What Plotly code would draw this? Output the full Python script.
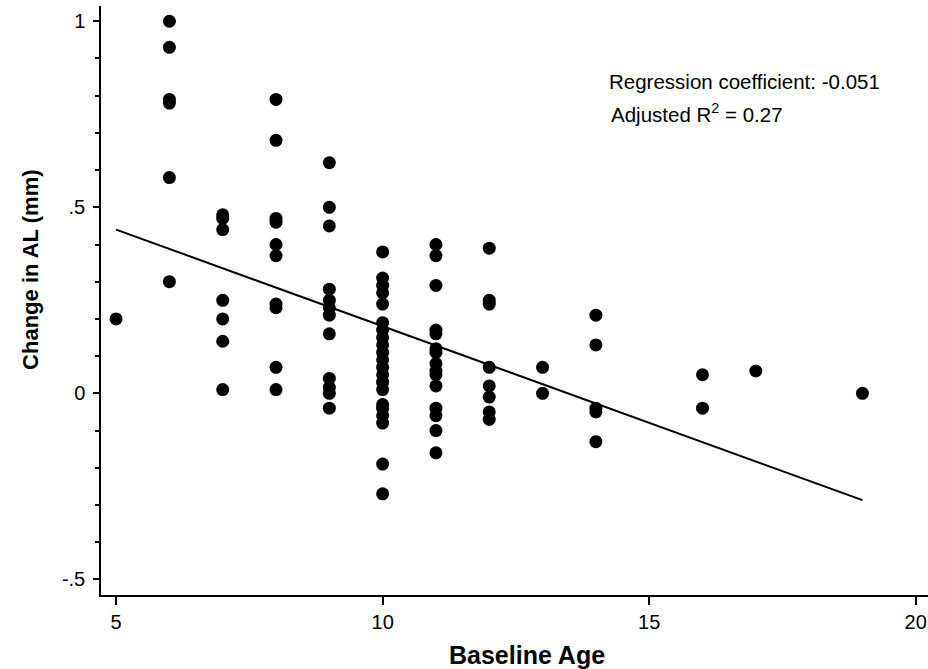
import plotly.graph_objects as go

# Baseline age groups and observed change in axial length (mm)
age_5 = [0.20]
age_6 = [1.00, 0.93, 0.79, 0.78, 0.58, 0.30]
age_7 = [0.48, 0.47, 0.44, 0.25, 0.20, 0.14, 0.01]
age_8 = [0.79, 0.68, 0.47, 0.46, 0.40, 0.37, 0.24, 0.23, 0.07, 0.01]
age_9 = [0.62, 0.50, 0.45, 0.28, 0.25, 0.23, 0.21, 0.16, 0.04, 0.016, 0.0, -0.04]
age_10 = [0.38, 0.31, 0.29, 0.27, 0.24, 0.19, 0.17, 0.15, 0.13, 0.11, 0.09,
          0.07, 0.05, 0.03, 0.01, -0.03, -0.04, -0.06, -0.08, -0.19, -0.27]
age_11 = [0.40, 0.37, 0.29, 0.17, 0.16, 0.12, 0.11, 0.08, 0.06, 0.05, 0.02,
          -0.04, -0.06, -0.10, -0.16]
age_12 = [0.39, 0.25, 0.24, 0.07, 0.02, -0.01, -0.05, -0.07]
age_13 = [0.07, 0.0]
age_14 = [0.21, 0.13, -0.04, -0.05, -0.13]
age_16 = [0.05, -0.04]
age_17 = [0.06]
age_19 = [0.0]

groups = {5: age_5, 6: age_6, 7: age_7, 8: age_8, 9: age_9, 10: age_10,
          11: age_11, 12: age_12, 13: age_13, 14: age_14, 16: age_16,
          17: age_17, 19: age_19}

# Fitted regression line end points
fit_x = [5, 19]
fit_y = [0.44, -0.287]

x_tick_vals = [5, 10, 15, 20]
y_tick_vals = [-0.5, 0, 0.5, 1]
y_tick_text = ["-.5", "0", ".5", "1"]

xs, ys = [], []
for age, vals in groups.items():
    xs += [age] * len(vals)
    ys += vals

FONT = "Arial, Liberation Sans, sans-serif"

fig = go.Figure()
fig.add_trace(go.Scatter(x=xs, y=ys, mode="markers",
                         marker=dict(size=13, color="black"),
                         showlegend=False, cliponaxis=False))
fig.add_trace(go.Scatter(x=fit_x, y=fit_y, mode="lines",
                         line=dict(color="black", width=2),
                         showlegend=False))

fig.update_layout(
    width=928, height=669,
    margin=dict(l=101, r=0, t=6, b=74),
    paper_bgcolor="white", plot_bgcolor="white",
    font=dict(family=FONT, color="black"),
    xaxis=dict(range=[4.717, 20.23], tickvals=x_tick_vals,
               showgrid=False, zeroline=False, showline=True,
               linecolor="black", linewidth=1.5,
               ticks="outside", ticklen=8, tickwidth=1.5, tickcolor="black",
               tickfont=dict(size=20, family=FONT), ticklabelstandoff=0),
    yaxis=dict(range=[-0.542, 1.041], tickvals=y_tick_vals, ticktext=y_tick_text,
               showgrid=False, zeroline=False, showline=True,
               linecolor="black", linewidth=1.5,
               ticks="outside", ticklen=6, tickwidth=1.5, tickcolor="black",
               tickfont=dict(size=20, family=FONT), ticklabelstandoff=4,
               minor=dict(dtick=0.1, tick0=0, ticks="outside", ticklen=4,
                          tickwidth=1.5, tickcolor="black", showgrid=False)),
    annotations=[
        dict(x=14.21, y=0.8376, xref="x", yref="y", xanchor="left", yanchor="middle",
             text="Regression coefficient: -0.051", showarrow=False,
             font=dict(size=20.5, family=FONT)),
        dict(x=14.24, y=0.7527, xref="x", yref="y", xanchor="left", yanchor="middle",
             text="Adjusted R<sup>2</sup> = 0.27", showarrow=False,
             font=dict(size=20.5, family=FONT)),
        dict(x=0.515, y=-0.102, xref="paper", yref="paper",
             xanchor="center", yanchor="middle",
             text="<b>Baseline Age</b>", showarrow=False,
             font=dict(size=25, family=FONT)),
        dict(x=-0.0846, y=0.552, xref="paper", yref="paper",
             xanchor="center", yanchor="middle", textangle=-90,
             text="<b>Change in AL (mm)</b>", showarrow=False,
             font=dict(size=22, family=FONT)),
    ],
)

fig.write_html("out.html",
               config={"displayModeBar": False},
               post_script="document.body.style.margin='0';document.body.style.padding='0';")
